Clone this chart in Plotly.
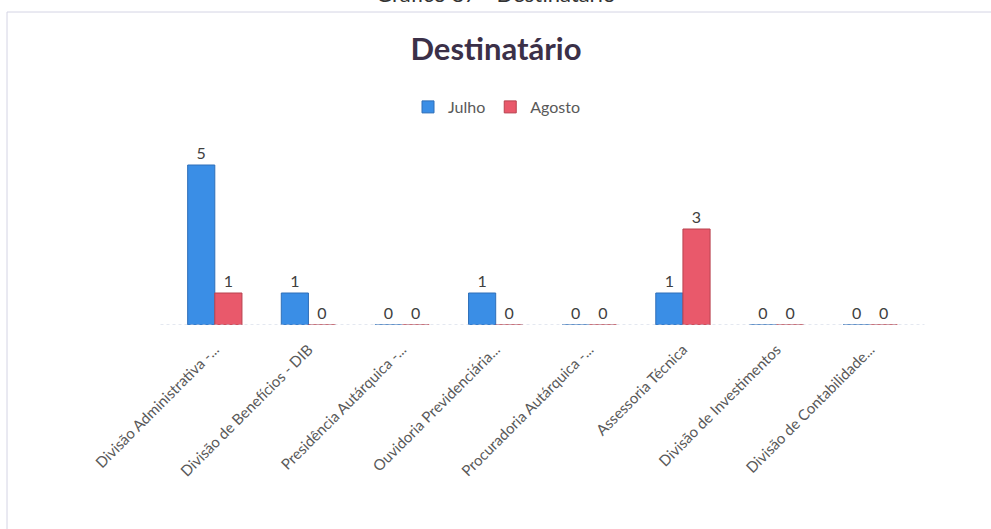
import plotly.graph_objects as go

categories = [
    "Divisão Administrativa -...",
    "Divisão de Benefícios - DIB",
    "Presidência Autárquica -...",
    "Ouvidoria Previdenciária...",
    "Procuradoria Autárquica -...",
    "Assessoria Técnica",
    "Divisão de Investimentos",
    "Divisão de Contabilidade...",
]
julho = [5, 1, 0, 1, 0, 1, 0, 0]
agosto = [1, 0, 0, 0, 0, 3, 0, 0]

W, H = 991, 529
ML, MR, MT, MB = 168, 74, 117, 204
ph = H - MT - MB
pw = W - ML - MR

def px_to_paper_y(py):
    return (H - MB - py) / ph

def px_to_paper_x(px):
    return (px - ML) / pw

fig = go.Figure()
fig.add_trace(go.Bar(
    x=categories, y=julho, name="Julho",
    marker=dict(color="#3a8ee6", line=dict(color="#2f6fb8", width=1)),
    text=[str(v) for v in julho], textposition="outside",
    textfont=dict(family="Lato", size=16, color="#404040"),
    cliponaxis=False,
))
fig.add_trace(go.Bar(
    x=categories, y=agosto, name="Agosto",
    marker=dict(color="#e9596b", line=dict(color="#b8434f", width=1)),
    text=[str(v) for v in agosto], textposition="outside",
    textfont=dict(family="Lato", size=16, color="#404040"),
    cliponaxis=False,
))

fig.update_layout(
    width=W, height=H,
    margin=dict(l=ML, r=MR, t=MT, b=MB),
    paper_bgcolor="white", plot_bgcolor="white",
    barmode="group", bargap=0.42, bargroupgap=0.0,
    title=dict(text="<b>Destinatário</b>", x=(496) / W, xanchor="center",
               y=1 - 49 / H, yanchor="middle",
               font=dict(family="Lato", size=31, color="#3b3048")),
    legend=dict(orientation="h", x=px_to_paper_x(497), xanchor="center",
                y=px_to_paper_y(107), yanchor="middle",
                font=dict(family="Lato", size=16, color="#595959"),
                itemwidth=30, tracegroupgap=0),
    showlegend=True,
    xaxis=dict(tickangle=-45, showgrid=False, zeroline=False, showline=False,
               tickfont=dict(family="Lato", size=15, color="#595959"),
               ticks="", ticklabelstandoff=12),
    yaxis=dict(range=[0, 6.5], visible=False),
    font=dict(family="Lato"),
)

fig.add_shape(type="line", xref="paper", yref="y", x0=-0.01, x1=1.01, y0=0, y1=0,
              line=dict(color="#c8d0e0", width=1, dash="dot"))
fig.add_shape(type="rect", xref="paper", yref="paper",
              x0=px_to_paper_x(7), x1=px_to_paper_x(W + 5),
              y0=px_to_paper_y(H + 5), y1=px_to_paper_y(12),
              line=dict(color="#d4d4e4", width=1), fillcolor="rgba(0,0,0,0)")
fig.add_annotation(text="Gráfico 87 - Destinatário", xref="paper", yref="paper",
                   x=px_to_paper_x(495), y=px_to_paper_y(9), xanchor="center",
                   yanchor="bottom", showarrow=False,
                   font=dict(family="Lato", size=22, color="#333333"))

fig.write_html("out.html", config={"displayModeBar": False},
               post_script="document.body.style.margin='0';document.body.style.overflow='hidden';")
